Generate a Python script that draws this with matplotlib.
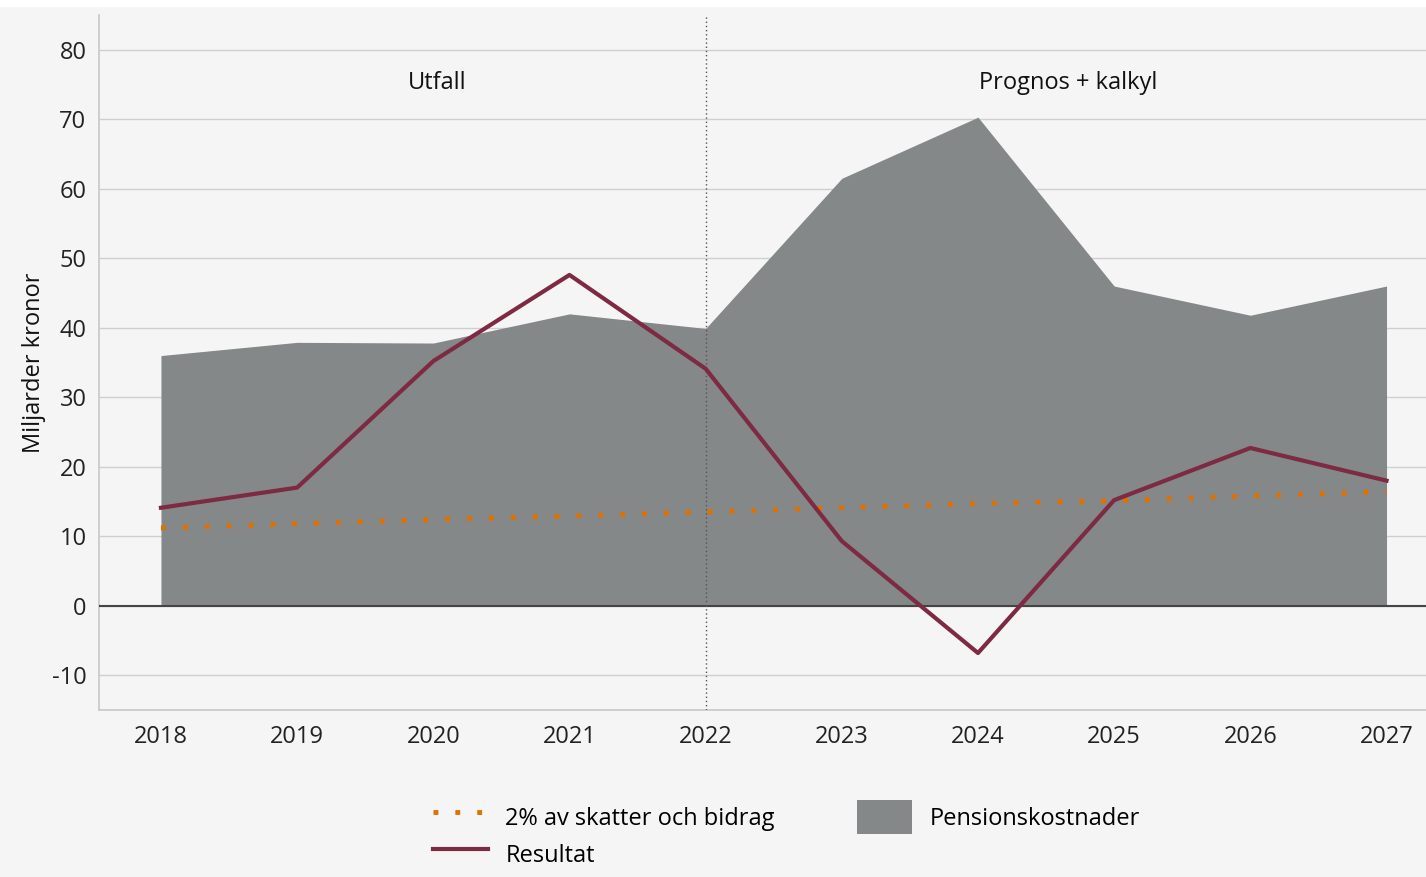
import matplotlib.pyplot as plt
from matplotlib.patches import Rectangle, Patch
from matplotlib.lines import Line2D

plt.rcParams['font.family'] = ['Open Sans', 'DejaVu Sans']
plt.rcParams['axes.unicode_minus'] = False

years = [2018, 2019, 2020, 2021, 2022, 2023, 2024, 2025, 2026, 2027]
pension = [36.0, 37.9, 37.8, 42.0, 39.9, 61.5, 70.3, 46.0, 41.8, 46.0]
resultat = [14.1, 17.0, 35.2, 47.6, 34.1, 9.3, -6.8, 15.2, 22.7, 18.0]
two_pct = [11.2, 11.8, 12.4, 12.9, 13.5, 14.1, 14.7, 15.1, 15.8, 16.4]

bg = "#f5f5f5"
area_col = "#848888"
res_col = "#7d2a42"
orange = "#e07000"

fig = plt.figure(figsize=(14.26, 8.77), dpi=100, facecolor=bg)
ax = fig.add_axes([99 / 1426, 167 / 877, 1 - 99 / 1426, 695 / 877])
ax.set_facecolor(bg)

ax.set_xlim(2017.545, 2027.29)
ax.set_ylim(-15, 85)
ax.set_yticks(range(-10, 81, 10))
ax.set_xticks(years)
ax.tick_params(length=0, labelsize=17, pad=9, colors="#222222")
ax.tick_params(axis="x", pad=11)
ax.yaxis.grid(True, color="#cfcfcf", lw=1)
ax.set_axisbelow(True)
for s in ["top", "right"]:
    ax.spines[s].set_visible(False)
for s in ["left", "bottom"]:
    ax.spines[s].set_color("#c8c8c8")
    ax.spines[s].set_linewidth(1.2)

ax.fill_between(years, 0, pension, color=area_col, lw=0, zorder=2)
ax.axhline(0, color="#444444", lw=1.5, zorder=3)
ax.axvline(2022, color="#555555", lw=1, ls=(0, (1, 2)), zorder=4)

ax.plot(years, two_pct, color=orange, lw=3.5, dashes=(1, 3.5),
        dash_capstyle="butt", zorder=5)
ax.plot(years, resultat, color=res_col, lw=3, zorder=6)

ax.text(2020.03, 75.2, "Utfall", ha="center", va="center", fontsize=17, color="#111111")
ax.text(2024.66, 75.2, "Prognos + kalkyl", ha="center", va="center", fontsize=17, color="#111111")
ax.set_ylabel("Miljarder kronor", fontsize=17, color="#111111", labelpad=4)

handles = [
    Line2D([], [], color=orange, lw=3.5, dashes=(1, 3.5), dash_capstyle="butt"),
    Line2D([], [], color=res_col, lw=3),
    Patch(facecolor=area_col, edgecolor="none"),
]
labels = ["2% av skatter och bidrag", "Resultat", "Pensionskostnader"]
fig.legend(handles, labels, ncol=2, frameon=False, fontsize=17,
           loc="upper left", bbox_to_anchor=(412 / 1426, 1 - 779 / 877),
           handlelength=2.3, handleheight=1.8, labelspacing=0.15,
           columnspacing=3.5, handletextpad=0.75)

fig.patches.append(Rectangle((0, 1 - 6 / 877), 1, 6 / 877, color="white",
                             transform=fig.transFigure, zorder=10))

fig.savefig("out.png", dpi=100, facecolor=bg)
